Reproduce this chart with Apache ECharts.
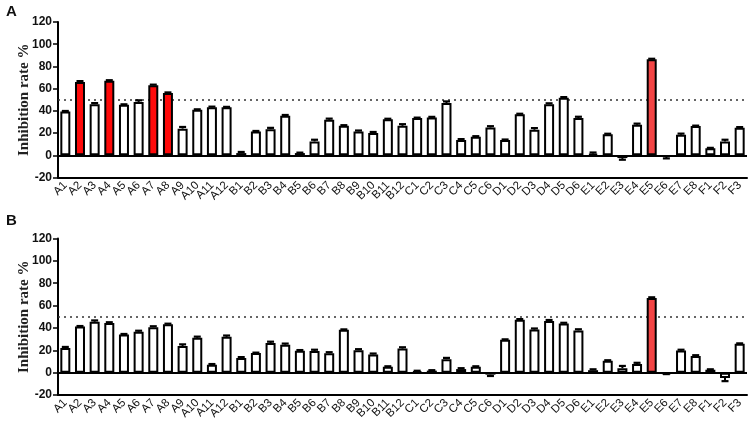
<!DOCTYPE html>
<html><head><meta charset="utf-8">
<script src="https://cdn.jsdelivr.net/npm/echarts@6/dist/echarts.min.js"></script>
<style>html,body{margin:0;padding:0;background:#fff}#c{width:750px;height:430px}</style>
</head><body><div id="c"></div>
<script>
const categories = ['A1','A2','A3','A4','A5','A6','A7','A8','A9','A10','A11','A12',
  'B1','B2','B3','B4','B5','B6','B7','B8','B9','B10','B11','B12',
  'C1','C2','C3','C4','C5','C6','D1','D2','D3','D4','D5','D6',
  'E1','E2','E3','E4','E5','E6','E7','E8','F1','F2','F3'];
const valuesA = [39.5,66,46,67,45.5,48,63,56,24,41,43.2,43.2,
  2,21.5,23.5,35.5,2,12.5,32,26.5,21.5,20,32.5,26.5,
  33.5,34,47,13.8,16.8,25,13.8,37,23,46,51.8,33.5,
  1.5,19,-2.5,27.5,86.5,-1.3,18.5,26.3,6.3,12.5,24.8];
const errA = [0.4,0.8,1,0.6,0.4,1.5,0.6,0.6,1.5,0.4,0.6,0.4,
  1,0.4,1.2,0.8,0.4,1.5,1,0.6,0.8,1,0.4,1.5,
  0.4,0.6,1.5,0.8,0.4,1.2,0.4,0.4,1.5,0.8,0.6,1.2,
  1,0.4,1.5,1,0.4,1.5,1,0.4,0.4,1.5,0.6];
const valuesB = [22,41.3,45.5,44.3,34.2,36.5,40.7,43.4,23.8,31.2,7.1,32,
  13.1,17.5,26.5,25,19.6,19.3,17.3,38.3,20,16.3,5.3,21.5,
  1.3,1.8,12,3.2,5.3,-1.8,29.4,47.3,38.5,46.3,44,37.8,
  2.2,10.7,4,7.8,66.8,-0.9,19.7,15,2.6,-4.8,25.8];
const errB = [1,0.4,1.2,0.8,0.4,1,0.8,0.4,1.5,1,0.6,1.2,
  0.8,0.4,1.2,1,0.6,1.2,1,0.4,1,0.8,0.4,1.2,
  0.4,0.4,1.2,0.8,0.4,1.2,0.4,0.6,1,0.8,0.6,1,
  0.8,0.4,2,1,0.6,0.4,0.8,0.6,0.4,2.8,0.4];
const highlightA = ['A2','A4','A7','A8','B1','E5'];
const highlightB = ['E5'];
const yTicks = [-20,0,20,40,60,80,100,120];
const threshold = 50;
const yName = 'Inhibition rate %';

const chart = echarts.init(document.getElementById('c'), null, {renderer:'canvas'});

function redColor(cat){ return cat === 'E5' ? '#f24444' : '#ff0a0a'; }

function barData(vals, hl){
  return vals.map((v,i)=>({value:v, itemStyle:{color: hl.includes(categories[i]) ? redColor(categories[i]) : '#ffffff'}}));
}
function errData(vals, errs){
  return vals.map((v,i)=>[i, v, errs[i]]);
}
function errRender(params, api){
  const i = api.value(0), v = api.value(1), e = api.value(2);
  const end = v >= 0 ? v + e : v - e;
  const p0 = api.coord([i, v]);
  const p1 = api.coord([i, end]);
  const hw = 3.5;
  return {type:'group', children:[
    {type:'line', shape:{x1:p0[0], y1:p0[1], x2:p1[0], y2:p1[1]}, style:{stroke:'#000', lineWidth:2}},
    {type:'line', shape:{x1:p1[0]-hw, y1:p1[1], x2:p1[0]+hw, y2:p1[1]}, style:{stroke:'#000', lineWidth:2.2}}
  ]};
}

const grids = [
  {left:58, right:3, top:22, height:155.5},
  {left:58, right:3, top:238.5, height:156.5}
];

function xAxis(idx){
  return {type:'category', gridIndex:idx, data:categories, boundaryGap:true,
    axisLine:{onZero:false, lineStyle:{color:'#000', width:2}},
    axisTick:{alignWithLabel:true, length:5, lineStyle:{color:'#000', width:1.5}},
    axisLabel:{rotate:45, interval:0, fontFamily:'Liberation Sans, Arial', fontSize:11.5, color:'#111', margin:6},
    splitLine:{show:false}};
}
function yAxis(idx){
  return {type:'value', gridIndex:idx, min:yTicks[0], max:yTicks[yTicks.length-1], interval:20,
    name:yName, nameLocation:'middle', nameGap:26, nameRotate:90, nameMoveOverlap:false,
    nameTextStyle:{fontFamily:'Liberation Serif, Times New Roman', fontWeight:'bold', fontSize:15, color:'#222'},
    axisLine:{show:true, lineStyle:{color:'#000', width:2}},
    axisTick:{show:true, length:5, lineStyle:{color:'#000', width:1.5}},
    axisLabel:{fontFamily:'Liberation Sans, Arial', fontWeight:'bold', fontSize:12, color:'#111', margin:6},
    splitLine:{show:false}};
}

function barSeries(idx, vals, hl){
  return {type:'bar', xAxisIndex:idx, yAxisIndex:idx, data:barData(vals, hl), barWidth:10,
    itemStyle:{borderColor:'#000', borderWidth:2}, z:3,
    markLine:{silent:true, symbol:'none', label:{show:false}, animation:false, z:1,
      data:[
        {yAxis:threshold, lineStyle:{type:[2,4], color:'#333', width:1.5}},
        {yAxis:0, lineStyle:{type:'solid', color:'#000', width:2}}
      ]}};
}
function errSeries(idx, vals, errs){
  return {type:'custom', xAxisIndex:idx, yAxisIndex:idx, data:errData(vals, errs), renderItem:errRender, z:4,
    encode:{x:0, y:1}};
}

chart.setOption({
  animation:false,
  graphic:[
    {type:'text', left:6, top:4, style:{text:'A', font:'bold 15px Liberation Sans, Arial', fill:'#111'}},
    {type:'text', left:6, top:213, style:{text:'B', font:'bold 15px Liberation Sans, Arial', fill:'#111'}}
  ],
  grid:grids,
  xAxis:[xAxis(0), xAxis(1)],
  yAxis:[yAxis(0), yAxis(1)],
  series:[
    barSeries(0, valuesA, highlightA), errSeries(0, valuesA, errA),
    barSeries(1, valuesB, highlightB), errSeries(1, valuesB, errB)
  ]
});
</script></body></html>
